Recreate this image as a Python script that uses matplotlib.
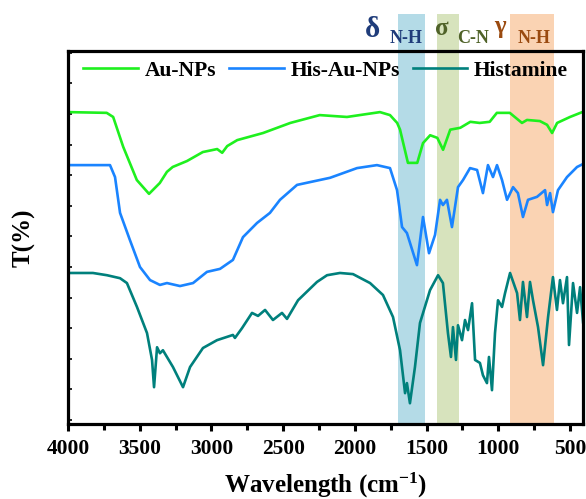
import numpy as np
import matplotlib
matplotlib.use('Agg')
import matplotlib.pyplot as plt

plt.rcParams['font.family'] = ['Liberation Serif', 'DejaVu Serif']
plt.rcParams['font.weight'] = 'bold'
plt.rcParams['mathtext.fontset'] = 'custom'
plt.rcParams['mathtext.rm'] = 'Liberation Serif:bold'
plt.rcParams['mathtext.it'] = 'Liberation Serif:bold'
plt.rcParams['mathtext.bf'] = 'Liberation Serif:bold'

# spectra (wavenumber in cm-1, transmittance in arbitrary %)
au_wn = [4000, 3730, 3685, 3615, 3520, 3435, 3360, 3310, 3270, 3170, 3060, 2960, 2925, 2890,
         2820, 2640, 2450, 2245, 2055, 1825, 1755, 1705, 1685, 1630, 1565, 1525, 1475, 1425,
         1385, 1335, 1265, 1195, 1130, 1060, 1010, 920, 835, 800, 710, 660, 625, 590, 500, 415]
au_t = [83.6, 83.4, 82.3, 74.3, 65.4, 61.7, 64.6, 67.6, 68.9, 70.5, 72.9, 73.7, 72.7, 74.5,
        76.1, 78.0, 80.7, 82.8, 82.3, 83.6, 82.8, 80.7, 78.9, 70.0, 70.0, 75.3, 77.4, 76.7,
        73.5, 78.9, 79.4, 81.0, 80.7, 81.0, 83.4, 83.4, 80.7, 81.5, 81.2, 80.2, 78.0, 80.7, 82.3, 83.6]

his_au_wn = [4000, 3707, 3672, 3637, 3568, 3498, 3428, 3359, 3310, 3219, 3128, 3031, 2940, 2850,
             2780, 2682, 2592, 2522, 2403, 2173, 1985, 1846, 1755, 1706, 1671, 1637, 1567, 1525,
             1483, 1441, 1406, 1386, 1358, 1323, 1281, 1246, 1197, 1148, 1107, 1072, 1037, 1009,
             974, 939, 897, 863, 828, 793, 730, 674, 660, 639, 619, 584, 521, 451, 409]
his_au_t = [69.4, 69.4, 66.2, 56.6, 49.3, 42.1, 38.6, 37.3, 37.8, 37.0, 37.8, 40.8, 41.6, 44.0,
            50.1, 53.9, 56.6, 60.1, 64.1, 66.0, 68.6, 69.4, 68.6, 62.7, 52.8, 51.2, 42.6, 55.5,
            45.8, 50.7, 60.1, 58.7, 60.1, 52.8, 63.5, 65.4, 68.6, 68.1, 61.9, 69.4, 66.2, 69.4,
            65.4, 60.1, 63.5, 61.9, 55.5, 60.1, 60.9, 62.7, 58.7, 61.9, 56.8, 62.7, 66.2, 68.9, 69.7]

hist_wn = [4000, 3826, 3728, 3637, 3589, 3519, 3449, 3414, 3400, 3379, 3359, 3338, 3268, 3198,
           3149, 3059, 2961, 2850, 2836, 2787, 2717, 2675, 2626, 2571, 2508, 2473, 2396, 2264,
           2194, 2104, 2013, 1894, 1804, 1734, 1685, 1650, 1637, 1616, 1581, 1546, 1476, 1420,
           1386, 1351, 1330, 1316, 1295, 1281, 1253, 1232, 1211, 1183, 1162, 1128, 1107, 1079,
           1065, 1044, 1023, 1002, 974, 953, 918, 869, 849, 828, 800, 779, 758, 723, 688, 653,
           619, 591, 570, 549, 521, 507, 479, 451, 430, 409]
hist_t = [40.5, 40.5, 39.9, 39.1, 37.8, 31.4, 24.4, 17.2, 9.9, 20.6, 19.0, 19.8, 15.3, 9.9,
          15.3, 20.4, 22.5, 23.9, 23.1, 25.7, 29.8, 29.0, 30.6, 27.9, 29.8, 28.2, 33.2, 38.1,
          39.9, 40.5, 40.2, 37.8, 34.6, 28.7, 19.8, 8.3, 11.0, 5.6, 15.3, 27.1, 35.9, 39.9,
          37.8, 24.4, 18.0, 26.0, 17.2, 26.5, 22.5, 27.9, 25.2, 32.4, 17.2, 16.4, 13.1, 11.0,
          18.0, 9.1, 24.4, 33.2, 31.4, 35.1, 40.5, 35.1, 27.9, 38.1, 28.7, 38.1, 33.2, 26.0, 15.8, 28.7,
          39.4, 30.6, 38.6, 32.4, 39.4, 21.2, 37.8, 29.8, 36.7, 27.3]

# highlighted vibration bands (cm-1) and their labels
bands = [(1699, 1511), (1427, 1274), (918, 612)]
band_colors = ['#b4dbe7', '#d7e3bd', '#fad3b3']
band_symbols = ['δ', 'σ', 'γ']
band_subs = ['N-H', 'C-N', 'N-H']
band_text_colors = ['#1f3c7a', '#4f6228', '#9a4a10']

fig = plt.figure(figsize=(5.86, 4.99), dpi=100)
ax = fig.add_axes([0.116, 0.150, 0.879, 0.748])

for (hi, lo), c in zip(bands, band_colors):
    ax.axvspan(lo, hi, ymin=0, ymax=1.10, color=c, lw=0, clip_on=False, zorder=0)

ax.plot(au_wn, au_t, color='#1ef01e', lw=1.9, label='Au-NPs')
ax.plot(his_au_wn, his_au_t, color='#1a84ff', lw=1.9, label='His-Au-NPs')
ax.plot(hist_wn, hist_t, color='#00807c', lw=1.9, label='Histamine')

ax.set_xlim(4000, 409)
ax.set_ylim(0, 100)
ax.set_xticks([4000, 3500, 3000, 2500, 2000, 1500, 1000, 500])
ax.set_xticks(np.arange(3750, 400, -500), minor=True)
ax.set_yticks(np.arange(1.1, 100, 8.2))
ax.set_yticklabels([])
ax.tick_params(axis='x', which='major', direction='out', length=5, width=2.2, pad=6, labelsize=15.5)
ax.tick_params(axis='x', which='minor', direction='out', length=4, width=2.2)
ax.tick_params(axis='y', direction='in', length=3, width=1.2)
for s in ax.spines.values():
    s.set_linewidth(2.3)

ax.set_xlabel('Wavelength (cm$^{-1}$)', fontsize=18, fontweight='bold', labelpad=8)
ax.set_ylabel('T(%)', fontsize=18, fontweight='bold', labelpad=20)

ax.legend(loc='upper center', bbox_to_anchor=(0.5, 1.025), ncol=3, frameon=False,
          fontsize=15.5, handlelength=2.55, handletextpad=0.3, columnspacing=0.6)

# band labels above the plot
sym_x = [1877, 1396, 985]
sub_x = [1640, 1176, 752]
sym_y = [1.0375, 1.043, 1.047]
sym_size = [21, 18, 18]
for i in range(3):
    ax.annotate(band_symbols[i], xy=(sym_x[i], sym_y[i]), xycoords=('data', 'axes fraction'),
                color=band_text_colors[i], fontsize=sym_size[i], ha='center', va='baseline',
                annotation_clip=False)
    ax.annotate(band_subs[i], xy=(sub_x[i], 1.021), xycoords=('data', 'axes fraction'),
                color=band_text_colors[i], fontsize=13, ha='center', va='baseline',
                annotation_clip=False)

fig.savefig('out.png', dpi=100)
